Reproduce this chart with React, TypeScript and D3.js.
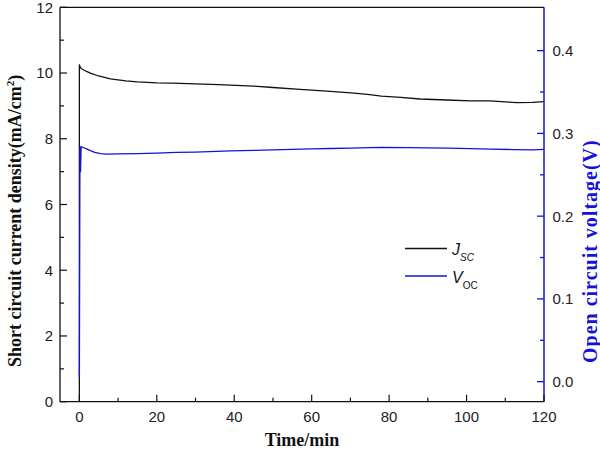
import React from "react";
import { scaleLinear, line } from "d3";

// time (min) and short circuit current density (mA/cm2)
const jscTime = [0, 0, 0.2, 0.5, 1, 2, 3, 5, 8, 12, 15, 20, 24, 30, 36, 39, 45, 50, 57, 63, 71, 75, 78, 83, 88, 95, 101, 106, 110, 113, 117, 120];
const jscValues = [0, 10.26, 10.18, 10.14, 10.1, 10.04, 9.99, 9.91, 9.82, 9.76, 9.73, 9.7, 9.69, 9.67, 9.65, 9.63, 9.6, 9.56, 9.5, 9.46, 9.39, 9.34, 9.3, 9.26, 9.21, 9.18, 9.15, 9.15, 9.12, 9.1, 9.11, 9.13];

// time (min) and open circuit voltage (V)
const vocTime = [0, 0.15, 0.3, 0.45, 1, 2, 3, 4, 5.5, 7, 10, 15, 20, 25, 30, 39, 45, 50, 55, 60, 65, 70, 75, 78, 85, 90, 95, 101, 106, 112, 117, 120];
const vocValues = [0.005, 0.284, 0.253, 0.284, 0.283, 0.281, 0.279, 0.277, 0.2755, 0.275, 0.2752, 0.2756, 0.2762, 0.277, 0.2775, 0.279, 0.2795, 0.2802, 0.2808, 0.2812, 0.2818, 0.2822, 0.2828, 0.283, 0.2828, 0.2825, 0.2822, 0.2816, 0.281, 0.2805, 0.28, 0.2808];

const xTicks = [0, 20, 40, 60, 80, 100, 120];
const xMinor = [10, 30, 50, 70, 90, 110];
const yTicks = [0, 2, 4, 6, 8, 10, 12];
const yMinor = [1, 3, 5, 7, 9, 11];
const y2Ticks = [0, 0.1, 0.2, 0.3, 0.4];
const y2Minor = [0.05, 0.15, 0.25, 0.35];

const BLUE = "#1414d8";

export default function App() {
  const left = 60, right = 544, top = 7.3, bottom = 401.7;
  const x = scaleLinear().domain([-5, 120]).range([left, right]);
  const y = scaleLinear().domain([0, 12]).range([bottom, top]);
  const y2 = scaleLinear().domain([-0.0242, 0.4524]).range([bottom, top]);

  const jscLine = line<number>()
    .x((d, i) => x(jscTime[i]))
    .y((d) => y(d));
  const vocLine = line<number>()
    .x((d, i) => x(vocTime[i]))
    .y((d) => y2(d));

  const tickFont = { fontFamily: "Liberation Sans, Arial, sans-serif", fontSize: 15, fill: "#222" };
  const titleFont = { fontFamily: "Liberation Serif, Times New Roman, serif", fontSize: 18, fontWeight: "bold" as const };

  return (
    <svg width={600} height={453} style={{ position: "absolute", left: 0, top: 0, background: "white" }}>
      <rect x={0} y={0} width={600} height={453} fill="white" />

      {/* data */}
      <path d={jscLine(jscValues) || ""} fill="none" stroke="#111" strokeWidth={1.3} />
      <path d={vocLine(vocValues) || ""} fill="none" stroke={BLUE} strokeWidth={1.3} />

      {/* frame */}
      <line x1={left} x2={right} y1={top} y2={top} stroke="#111" strokeWidth={1.3} />
      <line x1={left} x2={right} y1={bottom} y2={bottom} stroke="#111" strokeWidth={1.3} />
      <line x1={left} x2={left} y1={top} y2={bottom} stroke="#111" strokeWidth={1.3} />
      <line x1={right} x2={right} y1={top} y2={bottom} stroke={BLUE} strokeWidth={1.5} />

      {/* bottom axis */}
      {xTicks.map((t) => (
        <g key={"x" + t}>
          <line x1={x(t)} x2={x(t)} y1={bottom} y2={bottom - 7} stroke="#111" strokeWidth={1.2} />
          <text x={x(t)} y={422} textAnchor="middle" style={tickFont}>{t}</text>
        </g>
      ))}
      {xMinor.map((t) => (
        <line key={"xm" + t} x1={x(t)} x2={x(t)} y1={bottom} y2={bottom - 4} stroke="#111" strokeWidth={1.2} />
      ))}

      {/* left axis */}
      {yTicks.map((t) => (
        <g key={"y" + t}>
          <line x1={left} x2={left + 7} y1={y(t)} y2={y(t)} stroke="#111" strokeWidth={1.2} />
          <text x={53} y={y(t)} dy="0.36em" textAnchor="end" style={tickFont}>{t}</text>
        </g>
      ))}
      {yMinor.map((t) => (
        <line key={"ym" + t} x1={left} x2={left + 4} y1={y(t)} y2={y(t)} stroke="#111" strokeWidth={1.2} />
      ))}

      {/* right axis */}
      {y2Ticks.map((t) => (
        <g key={"r" + t}>
          <line x1={right} x2={right - 7} y1={y2(t)} y2={y2(t)} stroke={BLUE} strokeWidth={1.3} />
          <text x={552.5} y={y2(t)} dy="0.36em" textAnchor="start" style={tickFont}>{t.toFixed(1)}</text>
        </g>
      ))}
      {y2Minor.map((t) => (
        <line key={"rm" + t} x1={right} x2={right - 4} y1={y2(t)} y2={y2(t)} stroke={BLUE} strokeWidth={1.3} />
      ))}

      {/* titles */}
      <text x={302} y={446} textAnchor="middle" style={{ ...titleFont, fill: "#111" }}>Time/min</text>
      <text transform="translate(21,367) rotate(-90)" textAnchor="start" style={{ ...titleFont, fill: "#111" }}>
        Short circuit current density(mA/cm<tspan dy={-7} fontSize={11}>2</tspan><tspan dy={7}>)</tspan>
      </text>
      <text transform="translate(597,363) rotate(-90)" textAnchor="start" style={{ ...titleFont, fontSize: 20, letterSpacing: 1, fill: BLUE }}>
        Open circuit voltage(V)
      </text>

      {/* legend */}
      <g style={{ fontFamily: "Liberation Sans, Arial, sans-serif", fill: "#111" }}>
        <line x1={405} x2={447} y1={248.5} y2={248.5} stroke="#111" strokeWidth={1.3} />
        <text x={452} y={255} fontSize={16} fontStyle="italic">
          J<tspan dy={6} fontSize={10}>SC</tspan>
        </text>
        <line x1={405} x2={447} y1={276} y2={276} stroke={BLUE} strokeWidth={1.3} />
        <text x={452} y={282.5} fontSize={16}>
          <tspan fontStyle="italic">V</tspan>
          <tspan dy={6} fontSize={10}>OC</tspan>
        </text>
      </g>
    </svg>
  );
}
